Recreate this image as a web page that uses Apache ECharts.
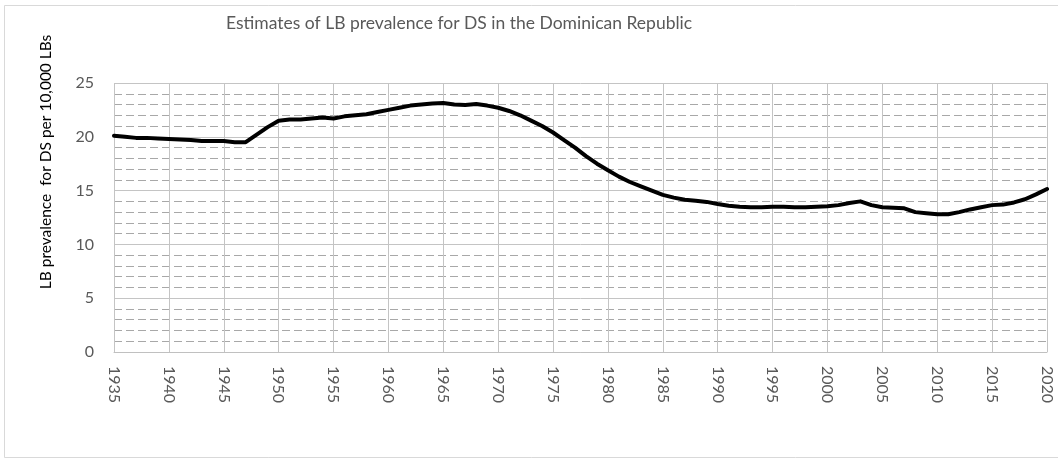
<!DOCTYPE html>
<html>
<head>
<meta charset="utf-8">
<script src="https://cdn.jsdelivr.net/npm/echarts@6/dist/echarts.min.js"></script>
<style>
  html, body { margin: 0; padding: 0; background: #fff; }
  #chart { width: 1058px; height: 460px; }
</style>
</head>
<body>
<div id="chart"></div>
<script>
var years = [];
for (var y = 1935; y <= 2020; y++) years.push(y);

// LB prevalence for DS per 10,000 LBs, one per year
var prevalence = [
    20.1, 20.0, 19.9, 19.9, 19.85, 19.8, 19.75, 19.7, 19.6, 19.6,
    19.6, 19.5, 19.5, 20.2, 20.9, 21.5, 21.6, 21.6, 21.7, 21.8,
    21.7, 21.9, 22.0, 22.1, 22.3, 22.5, 22.7, 22.9, 23.0, 23.1,
    23.15, 23.0, 22.95, 23.05, 22.9, 22.7, 22.4, 22.0, 21.5, 21.0,
    20.4, 19.7, 19.0, 18.2, 17.5, 16.9, 16.3, 15.8, 15.4, 15.0,
    14.6, 14.35, 14.15, 14.05, 13.95, 13.75, 13.6, 13.5, 13.45, 13.45,
    13.5, 13.5, 13.45, 13.45, 13.5, 13.55, 13.65, 13.85, 14.0, 13.65,
    13.45, 13.4, 13.35, 13.0, 12.9, 12.8, 12.8, 13.0, 13.25, 13.45,
    13.65, 13.7, 13.9, 14.2, 14.65, 15.15
];

var titleText = 'Estimates of LB prevalence for DS in the Dominican Republic';
var yName = 'LB prevalence  for DS per 10,000 LBs';

var points = [];
for (var i = 0; i < years.length; i++) points.push([years[i], prevalence[i]]);

var myChart = echarts.init(document.getElementById('chart'));
var option = {
    backgroundColor: '#fff',
    animation: false,
    textStyle: { fontFamily: 'Lato' },
    title: {
        text: titleText,
        left: 221,
        top: 9,
        textStyle: { fontSize: 17.5, fontWeight: 'normal', color: '#595959', fontFamily: 'Lato' }
    },
    grid: { left: 114, right: 11, top: 83, bottom: 108 },
    xAxis: {
        type: 'value',
        min: 1935,
        max: 2020,
        interval: 5,
        axisLine: { show: true, lineStyle: { color: '#c0c0c0' } },
        axisTick: { show: false },
        axisLabel: {
            rotate: -90, margin: 14, fontSize: 16, color: '#595959', fontFamily: 'Lato',
            formatter: function (v) { return String(v); }
        },
        splitLine: { show: true, lineStyle: { color: '#c4c4c4', width: 1 } }
    },
    yAxis: {
        type: 'value',
        min: 0,
        max: 25,
        interval: 5,
        axisLine: { show: false },
        axisTick: { show: false },
        axisLabel: { margin: 20, fontSize: 16, color: '#595959', fontFamily: 'Lato' },
        splitLine: { show: true, lineStyle: { color: '#c4c4c4', width: 1 } },
        minorTick: { show: false, splitNumber: 5 },
        minorSplitLine: { show: true, lineStyle: { color: '#a8a8a8', width: 1, type: [8, 4] } }
    },
    graphic: [
        {
            type: 'rect',
            shape: { x: 4.5, y: 5.5, width: 1060, height: 452 },
            style: { fill: 'none', stroke: '#d9d9d9', lineWidth: 1 },
            silent: true
        },
        {
            type: 'text',
            x: 46,
            y: 162,
            rotation: Math.PI / 2,
            style: {
                text: yName,
                fill: '#000',
                font: '15.5px Lato',
                textAlign: 'center',
                textVerticalAlign: 'middle'
            }
        }
    ],
    series: [
        {
            type: 'line',
            data: points,
            showSymbol: false,
            lineStyle: { color: '#000', width: 4, join: 'round', cap: 'round' },
            z: 5
        }
    ]
};
myChart.setOption(option);
</script>
</body>
</html>
